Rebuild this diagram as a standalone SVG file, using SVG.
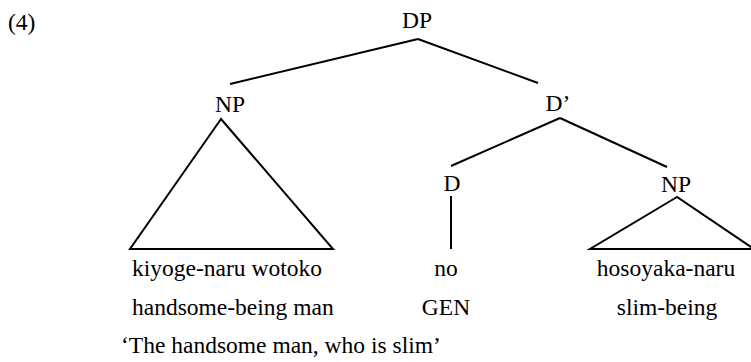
<svg xmlns="http://www.w3.org/2000/svg" width="751" height="362" viewBox="0 0 751 362">
<style>
text{font-family:"Liberation Serif","Times New Roman",serif;font-size:23.5px;fill:#000}
.c{text-anchor:middle}
.e line,.e polygon{stroke:#000;stroke-width:2;fill:none;stroke-linejoin:miter}
</style>
<rect width="751" height="362" fill="#fff"/>
<text x="8" y="30">(4)</text>
<g class="e" id="connectors">
<line x1="418" y1="39" x2="230" y2="84"/>
<line x1="418" y1="39" x2="538" y2="83"/>
<line x1="560" y1="118" x2="451" y2="166"/>
<line x1="560" y1="118" x2="667" y2="167"/>
<line x1="451" y1="196" x2="451" y2="249"/>
<polygon points="221,119 130,249 333,249"/>
<polygon points="677,197 590,249 754,249"/>
</g>
<g id="DP"><text class="c" x="417" y="28">DP</text></g>
<g id="NP1"><text class="c" x="230" y="112">NP</text></g>
<g id="Dbar"><text class="c" x="558" y="111">D’</text></g>
<g id="D"><text class="c" x="452" y="191">D</text></g>
<g id="NP2"><text class="c" x="676" y="192">NP</text></g>
<g id="leaves">
<text x="132" y="276">kiyoge-naru wotoko</text>
<text x="132" y="315">handsome-being man</text>
<text class="c" x="446" y="276">no</text>
<text class="c" x="446" y="315">GEN</text>
<text class="c" x="666" y="276">hosoyaka-naru</text>
<text class="c" x="667" y="315">slim-being</text>
<text x="121" y="353">‘The handsome man, who is slim’</text>
</g>
</svg>
